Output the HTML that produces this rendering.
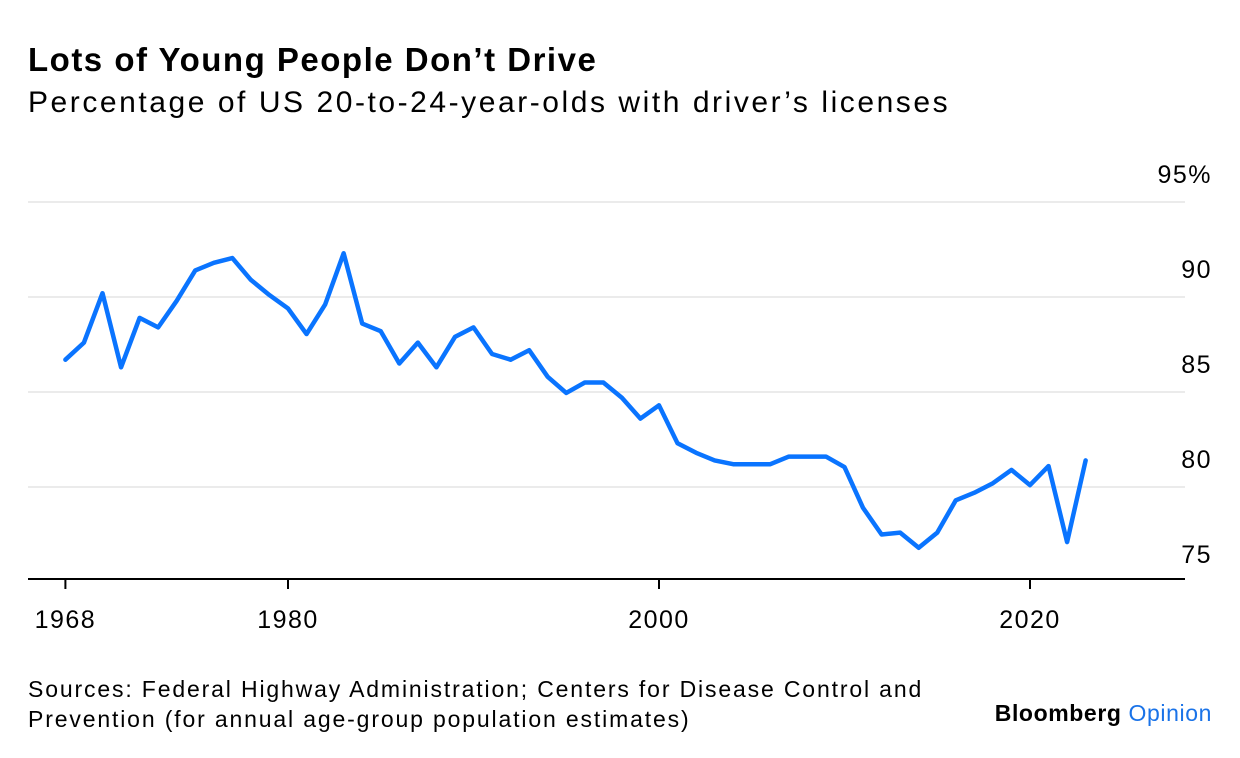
<!DOCTYPE html>
<html><head><meta charset="utf-8"><style>
body{margin:0;background:#fff;width:1240px;height:758px;overflow:hidden;font-family:"Liberation Sans",sans-serif;color:#000}
.t{position:absolute;left:28px;top:41px;font-size:33px;font-weight:bold;letter-spacing:1.5px;white-space:nowrap}
.s{position:absolute;left:28px;top:86px;font-size:30px;letter-spacing:2.55px;white-space:nowrap}
.src{position:absolute;left:28px;top:674px;font-size:23px;line-height:30px;letter-spacing:1.85px;white-space:nowrap}
.logo{position:absolute;right:28px;top:700px;font-size:23px;font-weight:bold;letter-spacing:0.6px}
</style></head><body>
<div class="t">Lots of Young People Don’t Drive</div>
<div class="s">Percentage of US 20-to-24-year-olds with driver’s licenses</div>
<svg id="c" width="1240" height="758" style="position:absolute;left:0;top:0"></svg>
<div class="src">Sources: Federal Highway Administration; Centers for Disease Control and<br>Prevention (for annual age-group population estimates)</div>
<div class="logo">Bloomberg <span style="color:#1a73e8;font-weight:normal">Opinion</span></div>
<script>
const years=[1968,1969,1970,1971,1972,1973,1974,1975,1976,1977,1978,1979,1980,1981,1982,1983,1984,1985,1986,1987,1988,1989,1990,1991,1992,1993,1994,1995,1996,1997,1998,1999,2000,2001,2002,2003,2004,2005,2006,2007,2008,2009,2010,2011,2012,2013,2014,2015,2016,2017,2018,2019,2020,2021,2022,2023];
const values=[86.7,87.6,90.2,86.3,88.9,88.4,89.8,91.4,91.8,92.05,90.9,90.1,89.4,88.05,89.6,92.3,88.6,88.2,86.5,87.6,86.3,87.9,88.4,87.0,86.7,87.2,85.8,84.95,85.5,85.5,84.7,83.6,84.3,82.3,81.8,81.4,81.2,81.2,81.2,81.6,81.6,81.6,81.05,78.9,77.5,77.6,76.8,77.6,79.3,79.7,80.2,80.9,80.1,81.1,77.1,81.4];
const yTicks=[95,90,85,80,75];
const yTickLabels=["95%","90","85","80","75"];
const xTicks=[1968,1980,2000,2020];
const NS="http://www.w3.org/2000/svg";
const svg=document.getElementById('c');
const x=v=>659+(v-2000)*18.55;
const y=v=>297-(v-90)*19;
function mk(t,a){const e=document.createElementNS(NS,t);for(const k in a)e.setAttribute(k,a[k]);svg.appendChild(e);return e;}
yTicks.forEach((t,i)=>{
  if(t!==75){const g=mk('line',{x1:28,x2:1185,y1:y(t),y2:y(t),stroke:'#ebebeb','stroke-width':2});
  
  }
  const l=mk('text',{x:1212,y:y(t)-19,'text-anchor':'end','font-size':25,'letter-spacing':1.5,'font-family':'Liberation Sans, sans-serif'});
  l.textContent=yTickLabels[i];
  
  
});
const ax=mk('line',{x1:28,x2:1185,y1:579,y2:579,stroke:'#000','stroke-width':2});


xTicks.forEach(t=>{
  const tk=mk('line',{x1:x(t),x2:x(t),y1:579,y2:589,stroke:'#000','stroke-width':2});
  
  
  const l=mk('text',{x:x(t),y:628,'text-anchor':'middle','font-size':25,'letter-spacing':1.5,'font-family':'Liberation Sans, sans-serif'});
  l.textContent=t;
  
  
});
const p=mk('polyline',{points:years.map((yr,i)=>x(yr)+','+y(values[i])).join(' '),fill:'none',stroke:'#0a74ff','stroke-width':4.5,'stroke-linejoin':'round','stroke-linecap':'round'});


</script>
</body></html>
